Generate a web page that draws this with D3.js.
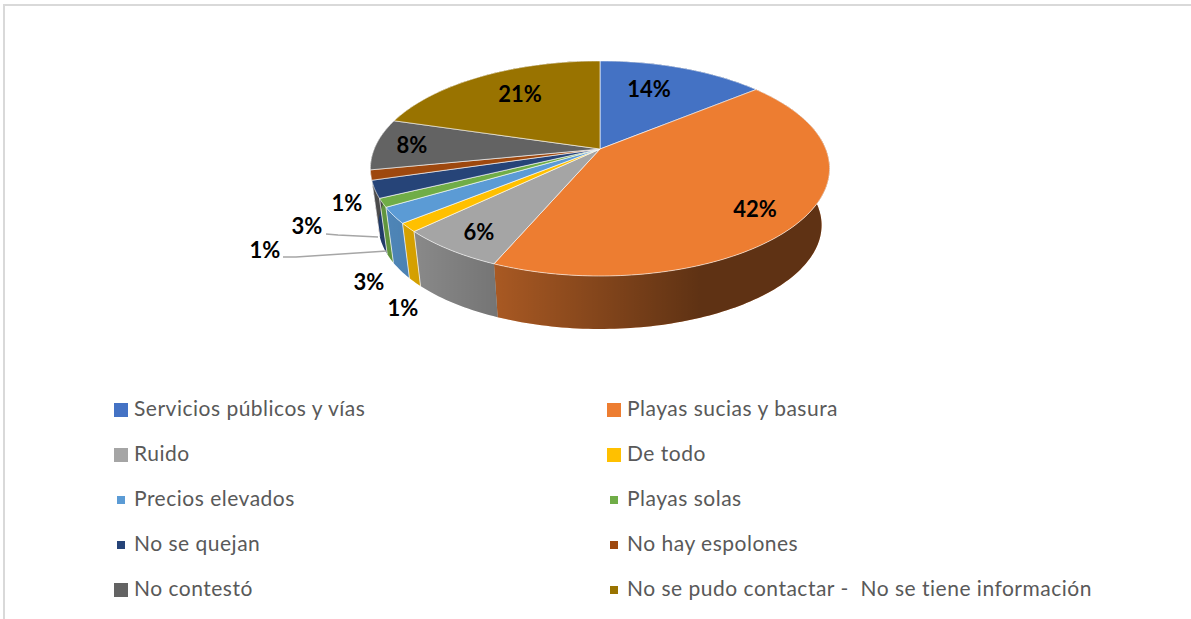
<!DOCTYPE html>
<html>
<head>
<meta charset="utf-8">
<script src="https://cdn.jsdelivr.net/npm/d3@7"></script>
<style>
  html, body { margin: 0; padding: 0; background: #fff; overflow: hidden; }
  text { font-family: Lato, sans-serif; white-space: pre; }
</style>
</head>
<body>
<div id="chart"></div>
<script>
const categories = ["Servicios públicos y vías", "Playas sucias y basura", "Ruido", "De todo", "Precios elevados",
  "Playas solas", "No se quejan", "No hay espolones", "No contestó", "No se pudo contactar -  No se tiene información"];
// slice sizes as measured on the picture, the printed labels are rounded
const values = [14, 42.4, 6.4, 1.3, 2.4, 1.3, 2.6, 1.5, 7.7, 20.4];
const percentLabels = ["14%", "42%", "6%", "1%", "3%", "1%", "3%", "1%", "8%", "21%"];
const colors = ["#4472C4", "#ED7D31", "#A5A5A5", "#FFC000", "#5B9BD5", "#70AD47", "#264478", "#9E480E", "#636363", "#997300"];
// legend entries drawn with the small marker
const smallMarkers = ["Precios elevados", "Playas solas", "No se quejan", "No hay espolones", "No se pudo contactar -  No se tiene información"];

const width = 1191, height = 619;

const svg = d3.select("#chart").append("svg")
  .attr("width", width)
  .attr("height", height);

// frame (only top and left are in the picture)
svg.append("path")
  .attr("d", `M4,${height} V5 H${width}`)
  .attr("fill", "none")
  .attr("stroke", "#d9d9d9")
  .attr("stroke-width", 2);

// 3D pie: circle seen in perspective
const cx = 600, apexY = 149, k = 0.181, a = 225.8, b = 104;
const depthScale = 0.965, bottomY = 206.4;

function project(angle, base) {
  const u = Math.sin(angle), v = -Math.cos(angle), w = 1 - k * v;
  if (base) return [cx + depthScale * a * u / w, bottomY + depthScale * b * v / w];
  return [cx + a * u / w, apexY + b * v / w];
}

function sampleArc(start, end, base) {
  const n = Math.max(2, Math.ceil((end - start) / 0.02));
  return d3.range(n + 1).map(i => project(start + (end - start) * i / n, base));
}

const pie = d3.pie().sort(null).value(d => d)(values);
const line = d3.line();

// darkening of the side wall from left to right
const shade = d3.scaleLinear()
  .domain([375, 415, 495, 700, 830])
  .range([0.13, 0.17, 0.29, 0.6, 0.6]);

const grad = svg.append("defs").append("linearGradient")
  .attr("id", "wallShade")
  .attr("gradientUnits", "userSpaceOnUse")
  .attr("x1", 375).attr("x2", 830)
  .attr("y1", 0).attr("y2", 0);
grad.selectAll("stop")
  .data(shade.domain())
  .enter()
  .append("stop")
  .attr("offset", d => (d - 375) / (830 - 375))
  .attr("stop-color", "#000")
  .attr("stop-opacity", d => shade(d));

// wall = many small quads, so the silhouette between top and bottom rim gets filled too
function wallPath(d) {
  const top = sampleArc(d.startAngle, d.endAngle, false);
  const bottom = sampleArc(d.startAngle, d.endAngle, true);
  return d3.range(top.length - 1)
    .map(i => line([top[i], top[i + 1], bottom[i + 1], bottom[i]]) + "Z")
    .join("");
}

const walls = svg.append("g");
walls.selectAll(".wall")
  .data(pie)
  .enter()
  .append("path")
  .attr("class", "wall")
  .attr("d", wallPath)
  .attr("fill", (d, i) => colors[i]);
walls.selectAll(".wall-shade")
  .data(pie)
  .enter()
  .append("path")
  .attr("class", "wall-shade")
  .attr("d", wallPath)
  .attr("fill", "url(#wallShade)");

// thin light edges between the small slices on the wall
walls.selectAll(".wall-edge")
  .data(pie.slice(3, 8))
  .enter()
  .append("path")
  .attr("class", "wall-edge")
  .attr("d", d => line([project(d.startAngle, false), project(d.startAngle, true)]))
  .attr("stroke", "#fff")
  .attr("stroke-opacity", 0.7)
  .attr("fill", "none");

// top face
svg.append("g").selectAll(".slice")
  .data(pie)
  .enter()
  .append("path")
  .attr("class", "slice")
  .attr("d", d => line([[cx, apexY]].concat(sampleArc(d.startAngle, d.endAngle, false))) + "Z")
  .attr("fill", (d, i) => colors[i])
  .attr("stroke", "#fff")
  .attr("stroke-opacity", 0.6)
  .attr("stroke-width", 1);

// leader lines of the two outside labels
const leaderLines = [
  [[326, 234], [338, 235], [378, 237]],
  [[283, 257], [296, 257], [387, 251]]
];
svg.append("g").selectAll("path")
  .data(leaderLines)
  .enter()
  .append("path")
  .attr("d", d => line(d))
  .attr("fill", "none")
  .attr("stroke", "#a6a6a6")
  .attr("stroke-width", 1.5);

// label centres, same order as the values
const labelPositions = [[649, 90], [755, 210], [479, 233], [403, 309], [369, 283], [265, 251], [307, 227], [347, 204], [412, 146], [520, 95]];
svg.append("g").selectAll("text")
  .data(percentLabels)
  .enter()
  .append("text")
  .attr("x", (d, i) => labelPositions[i][0])
  .attr("y", (d, i) => labelPositions[i][1])
  .attr("dy", "0.34em")
  .attr("text-anchor", "middle")
  .style("font-size", "22px")
  .style("font-weight", "700")
  .style("fill", "#000")
  .text(d => d);

// legend
const legendX = d3.scalePoint().domain([0, 1]).range([121, 614]);
const legendY = d3.scalePoint().domain(d3.range(5)).range([410, 590]);

const legend = svg.append("g").selectAll("g")
  .data(categories)
  .enter()
  .append("g")
  .attr("transform", (d, i) => `translate(${legendX(i % 2)}, ${legendY(Math.floor(i / 2))})`);

legend.append("rect")
  .attr("x", d => smallMarkers.includes(d) ? -4 : -7)
  .attr("y", d => smallMarkers.includes(d) ? -4 : -7)
  .attr("width", d => smallMarkers.includes(d) ? 8 : 14)
  .attr("height", d => smallMarkers.includes(d) ? 8 : 14)
  .attr("fill", (d, i) => colors[i]);

legend.append("text")
  .attr("x", 13)
  .attr("dy", "0.3em")
  .style("font-size", "21px")
  .style("letter-spacing", "0.5px")
  .style("fill", "#595959")
  .text(d => d);
</script>
</body>
</html>
